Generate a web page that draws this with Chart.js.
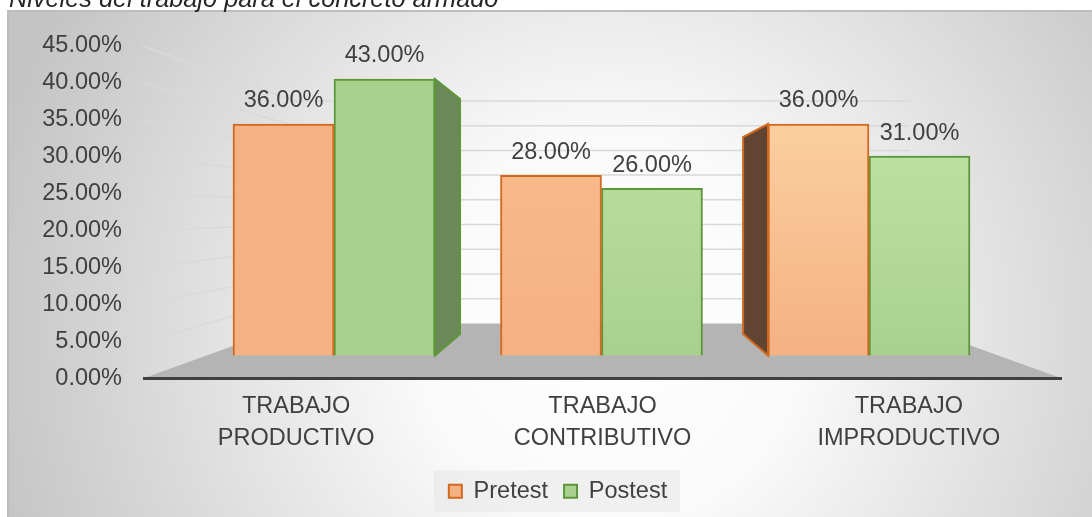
<!DOCTYPE html>
<html>
<head>
<meta charset="utf-8">
<script src="https://cdn.jsdelivr.net/npm/chart.js@4.4.1/dist/chart.umd.min.js"></script>
<style>
  html, body { margin: 0; padding: 0; background: #fff; }
  #wrap { position: relative; width: 1092px; height: 517px; overflow: hidden; }
  #chartTitle {
    position: absolute; left: 9px; top: -14px; z-index: 2; white-space: nowrap;
    font: italic 25.3px 'Liberation Sans', Arial, sans-serif; line-height: 25px; color: #262626;
  }
  canvas { position: absolute; left: 0; top: 0; }
</style>
</head>
<body>
<div id="wrap">
  <div id="chartTitle">Niveles del trabajo para el concreto armado</div>
  <canvas id="nivelesChart" width="1092" height="517"></canvas>
</div>
<script>
// Data
const categories = [['TRABAJO', 'PRODUCTIVO'], ['TRABAJO', 'CONTRIBUTIVO'], ['TRABAJO', 'IMPRODUCTIVO']];
const seriesNames = ['Pretest', 'Postest'];
const pretestValues = [36, 28, 36];
const postestValues = [43, 26, 31];
const yTickMin = 0;
const yTickMax = 45;
const yTickStep = 5;

// Styles
const FONT = "'Liberation Sans', Arial, sans-serif";
const TEXT_COLOR = '#404040';
const seriesBorders = ['#D2691E', '#5E963A'];
const legendFills = ['#F4B183', '#A9D18E'];
const barTops = [['#F4B183', '#FABD8F', '#FDD6A8'], ['#A9D18E', '#C0E4A2', '#C4E8A6']];
const barBottoms = ['#F4B183', '#A9D18E'];
const sideFaces = ['#614532', '#6B8858'];
const LEGEND_SHIFT = 23;

// fake 3D: vanishing point and depths (fractions of the way to the vanishing point)
const VP = { x: 602, y: 212 };
const WALL_DEPTH = 0.331;
const SIDE_DEPTH = 0.15;

function toward(p, d) {
    return { x: p.x + (VP.x - p.x) * d, y: p.y + (VP.y - p.y) * d };
}

function barFill(ctx, s) {
    const chart = ctx.chart;
    if (!chart.chartArea || ctx.dataIndex === undefined || !chart.scales.y2) return barBottoms[s];
    const y2 = chart.scales.y2;
    const g = chart.ctx.createLinearGradient(0, y2.getPixelForValue(yTickMax), 0, y2.getPixelForValue(0));
    g.addColorStop(0, barTops[s][ctx.dataIndex]);
    g.addColorStop(1, barBottoms[s]);
    return g;
}

// panel background, floor, perspective gridlines, legend backdrop
const backdropPlugin = {
    id: 'backdrop',
    afterLayout(chart) {
        // legend in the reference sits a bit right of the canvas centre
        const lg = chart.legend;
        if (!lg) return;
        lg.left += LEGEND_SHIFT;
        lg.right += LEGEND_SHIFT;
        (lg.legendHitBoxes || []).forEach(b => { b.left += LEGEND_SHIFT; });
    },
    beforeDraw(chart) {
        const { ctx, chartArea: a, scales: { y } } = chart;
        ctx.save();

        const rg = ctx.createRadialGradient(610, 330, 0, 610, 330, 640);
        rg.addColorStop(0, '#FFFFFF');
        rg.addColorStop(0.3, '#FAFAFA');
        rg.addColorStop(1, '#C4C4C4');
        ctx.fillStyle = rg;
        ctx.fillRect(8, 11, 1084, 506);
        ctx.strokeStyle = '#BDBDBD';
        ctx.lineWidth = 2;
        ctx.beginPath();
        ctx.moveTo(8, 517); ctx.lineTo(8, 11); ctx.lineTo(1092, 11);
        ctx.stroke();

        // floor
        const y0 = y.getPixelForValue(0);
        const fl = { x: a.left, y: y0 }, fr = { x: a.right, y: y0 };
        const bl = toward(fl, WALL_DEPTH), br = toward(fr, WALL_DEPTH);
        ctx.fillStyle = '#B4B4B4';
        ctx.beginPath();
        ctx.moveTo(fl.x, fl.y); ctx.lineTo(bl.x, bl.y); ctx.lineTo(br.x, br.y); ctx.lineTo(fr.x, fr.y);
        ctx.closePath();
        ctx.fill();

        // gridlines: slanted along the left side, flat along the back wall
        ctx.strokeStyle = '#D9D9D9';
        ctx.lineWidth = 1.5;
        for (let v = yTickMin + yTickStep; v <= yTickMax; v += yTickStep) {
            const f = { x: a.left, y: y.getPixelForValue(v) };
            const b = toward(f, WALL_DEPTH);
            const bRight = toward({ x: a.right, y: f.y }, WALL_DEPTH);
            ctx.beginPath();
            ctx.moveTo(f.x, f.y); ctx.lineTo(b.x, b.y); ctx.lineTo(bRight.x, b.y);
            ctx.stroke();
        }

        // front edge of the floor
        ctx.strokeStyle = '#404040';
        ctx.lineWidth = 3;
        ctx.beginPath();
        ctx.moveTo(a.left, y0); ctx.lineTo(a.right, y0);
        ctx.stroke();

        // legend backdrop
        const boxes = chart.legend && chart.legend.legendHitBoxes;
        if (boxes && boxes.length) {
            const first = boxes[0], last = boxes[boxes.length - 1];
            const cy = first.top + first.height / 2;
            ctx.fillStyle = 'rgba(225,225,225,0.4)';
            ctx.fillRect(first.left - 15, cy - 21, last.left + last.width - first.left + 28, 42);
        }
        ctx.restore();
    }
};

// visible side faces of the outer bars of each group
const sideFacePlugin = {
    id: 'sideFaces',
    beforeDatasetsDraw(chart) {
        const ctx = chart.ctx;
        const n = chart.data.datasets.length;
        ctx.save();
        chart.data.datasets.forEach((ds, s) => {
            const meta = chart.getDatasetMeta(s);
            meta.data.forEach(bar => {
                const { x, y, base, width } = bar.getProps(['x', 'y', 'base', 'width'], true);
                const left = x - width / 2, right = x + width / 2;
                let ex = null;
                if (s === n - 1 && right < VP.x - 20) ex = right;
                if (s === 0 && left > VP.x + 20) ex = left;
                if (ex === null) return;
                const t = toward({ x: ex, y: y }, SIDE_DEPTH);
                const b = toward({ x: ex, y: base }, SIDE_DEPTH);
                ctx.fillStyle = sideFaces[s];
                ctx.strokeStyle = seriesBorders[s];
                ctx.lineWidth = 2;
                ctx.beginPath();
                ctx.moveTo(ex, y); ctx.lineTo(t.x, t.y); ctx.lineTo(b.x, b.y); ctx.lineTo(ex, base);
                ctx.closePath();
                ctx.fill();
                ctx.stroke();
            });
        });
        ctx.restore();
    }
};

// value labels above the bars
const valueLabelPlugin = {
    id: 'valueLabels',
    afterDatasetsDraw(chart) {
        const ctx = chart.ctx;
        ctx.save();
        ctx.font = '23.5px ' + FONT;
        ctx.fillStyle = TEXT_COLOR;
        ctx.textAlign = 'center';
        ctx.textBaseline = 'middle';
        chart.data.datasets.forEach((ds, s) => {
            chart.getDatasetMeta(s).data.forEach((bar, i) => {
                ctx.fillText(ds.data[i].y.toFixed(2) + '%', bar.x, bar.y - 23);
            });
        });
        ctx.restore();
    }
};

const seriesValues = [pretestValues, postestValues];

const nivelesChart = new Chart(document.getElementById('nivelesChart'), {
    type: 'bar',
    data: {
        labels: categories,
        datasets: seriesNames.map((name, s) => ({
            label: name,
            data: seriesValues[s].map((v, i) => ({ x: i, y: v })),
            xAxisID: 'x2',
            yAxisID: 'y2',
            backgroundColor: ctx => barFill(ctx, s),
            borderColor: seriesBorders[s],
            borderWidth: 2,
            barThickness: 101
        }))
    },
    options: {
        responsive: false,
        animation: false,
        devicePixelRatio: 1,
        layout: { padding: { left: 8, top: 46, right: 30, bottom: 4 } },
        scales: {
            x: {
                type: 'category',
                offset: true,
                grid: { display: false, drawTicks: false },
                border: { display: false },
                ticks: {
                    color: TEXT_COLOR, padding: 13, maxRotation: 0, autoSkip: false,
                    font: { family: FONT, size: 23.5, lineHeight: 1.32 }
                },
                afterFit: s => { s.height = 85; }
            },
            y: {
                type: 'linear',
                position: 'left',
                min: yTickMin,
                max: yTickMax,
                grid: { display: false, drawTicks: false },
                border: { display: false },
                ticks: {
                    stepSize: yTickStep, color: TEXT_COLOR, padding: 21,
                    font: { family: FONT, size: 23.5 },
                    callback: v => v.toFixed(2) + '%'
                },
                afterFit: s => { s.width = 135; }
            },
            // bar plane sits deeper than the front axis, so it has its own hidden scales
            x2: { type: 'linear', axis: 'x', display: false, offset: false, min: -0.714, max: 2.7215 },
            y2: { type: 'linear', axis: 'y', display: false, min: -3.583, max: 48.13 }
        },
        plugins: {
            legend: {
                position: 'bottom',
                labels: {
                    color: TEXT_COLOR,
                    boxWidth: 13,
                    boxHeight: 13,
                    padding: 16,
                    font: { family: FONT, size: 23.5 },
                    generateLabels: () => seriesNames.map((name, s) => ({
                        text: name,
                        fillStyle: legendFills[s],
                        strokeStyle: seriesBorders[s],
                        lineWidth: 2,
                        fontColor: TEXT_COLOR,
                        datasetIndex: s
                    }))
                }
            },
            tooltip: { enabled: false }
        }
    },
    plugins: [backdropPlugin, sideFacePlugin, valueLabelPlugin]
});
</script>
</body>
</html>
